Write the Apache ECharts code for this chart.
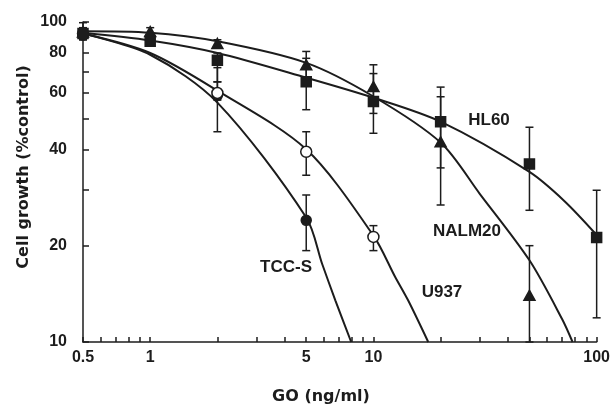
<!DOCTYPE html>
<html>
<head>
<meta charset="utf-8">
<script src="https://cdn.jsdelivr.net/npm/echarts@6/dist/echarts.min.js"></script>
<style>
  html, body { margin: 0; padding: 0; background: #fff; }
  #grafico { width: 613px; height: 405px; }
</style>
</head>
<body>
<div id="grafico"></div>
<script>
// measured points (dose in ng/ml, growth in % of control)
const hl60Dose = [0.5, 1, 2, 5, 10, 20, 50, 100];
const hl60Growth = [92, 87, 76, 65, 56.4, 48.8, 36, 21.2];
const hl60Low = [88, 84, 65, 53.2, 44.9, 35, 25.8, 11.9];
const hl60High = [99.5, 90, 80, 77, 69, 58.4, 46.9, 29.8];

const nalmDose = [0.5, 1, 2, 5, 10, 20, 50];
const nalmGrowth = [93, 93.3, 85.7, 73.5, 62.8, 42.2, 14];
const nalmLow = [90, 90, 83, 66, 51.8, 26.8, 10];
const nalmHigh = [96, 96, 88, 80.9, 73.5, 62.6, 20];

const u937Dose = [0.5, 2, 5, 10];
const u937Growth = [92, 60, 39.3, 21.3];
const u937Low = [90, 57, 33.2, 19.3];
const u937High = [94, 65, 45.4, 23.1];

const tccDose = [0.5, 2, 5];
const tccGrowth = [91, 59, 24];
const tccLow = [88, 45.4, 19.3];
const tccHigh = [94, 72, 28.8];

// fitted curves
const hl60CurveDose = [0.5, 1, 2, 5, 10, 20, 50, 72, 100];
const hl60CurveGrowth = [92.5, 87.5, 80, 67, 58, 48.8, 34, 27.5, 21.6];
const nalmCurveDose = [0.5, 1, 2, 5, 10, 20, 30, 50, 70, 78];
const nalmCurveGrowth = [93.5, 92.5, 87, 74.5, 58.5, 42, 29, 18, 11.8, 10];
const u937CurveDose = [0.5, 1, 2, 5, 10, 12.5, 14.3, 17.6];
const u937CurveGrowth = [92, 80, 61, 40, 21.5, 16, 13.5, 10];
const tccCurveDose = [0.5, 1, 2, 5, 5.9, 6.75, 7.95];
const tccCurveGrowth = [92, 79, 56, 24.5, 17.5, 13.5, 10];

// axis ticks and labels
const xTicks = [0.5, 0.6, 0.7, 0.8, 0.9, 1, 2, 3, 4, 5, 6, 7, 8, 9, 10, 20, 30, 40, 50, 60, 70, 80, 90, 100];
const xLabels = [0.5, 1, 5, 10, 100];
const yTicks = [10, 20, 30, 40, 50, 60, 70, 80, 90, 100];
const yLabels = [10, 20, 40, 60, 80, 100];

const INK = '#1c1c1c';
const lg = Math.log10;
const fmt = v => String(+Math.pow(10, v).toPrecision(3));

const pares = (xs, ys) => xs.map((x, i) => [lg(x), lg(ys[i])]);
const barras = (xs, lo, hi) => xs.map((x, i) => [lg(x), lg(lo[i]), lg(hi[i])]);

function curva(xs, ys) {
  return {
    type: 'line', data: pares(xs, ys), smooth: 0.3,
    showSymbol: false, lineStyle: { color: INK, width: 2 }, z: 2, silent: true
  };
}

function erros(xs, lo, hi) {
  return {
    type: 'custom', data: barras(xs, lo, hi), clip: false, z: 3, silent: true,
    encode: { x: 0, y: [1, 2] },
    renderItem(params, api) {
      const a = api.coord([api.value(0), api.value(1)]);
      const b = api.coord([api.value(0), api.value(2)]);
      const w = 4;
      const st = { stroke: INK, lineWidth: 1.5 };
      return {
        type: 'group',
        children: [
          { type: 'line', shape: { x1: a[0], y1: a[1], x2: b[0], y2: b[1] }, style: st },
          { type: 'line', shape: { x1: a[0] - w, y1: a[1], x2: a[0] + w, y2: a[1] }, style: st },
          { type: 'line', shape: { x1: b[0] - w, y1: b[1], x2: b[0] + w, y2: b[1] }, style: st }
        ]
      };
    }
  };
}

function pontos(xs, ys, symbol, size, fill, z) {
  return {
    type: 'scatter', data: pares(xs, ys), symbol, symbolSize: size, z, silent: true,
    itemStyle: { color: fill, borderColor: INK, borderWidth: 1.5, opacity: 1 }
  };
}

const labelFont = { fontFamily: 'Liberation Sans', fontWeight: 'bold', fontSize: 16, color: INK };

const myChart = echarts.init(document.getElementById('grafico'));

myChart.setOption({
  animation: false,
  backgroundColor: '#fff',
  grid: { left: 83, right: 14, top: 22, bottom: 63 },
  xAxis: {
    type: 'value', min: lg(0.5), max: 2,
    axisLine: { onZero: false, lineStyle: { color: INK, width: 1.5 } },
    axisTick: { inside: true, length: 5, customValues: xTicks.map(lg), lineStyle: { color: INK, width: 1.5 } },
    axisLabel: { customValues: xLabels.map(lg), formatter: fmt, margin: 8, ...labelFont },
    splitLine: { show: false }
  },
  yAxis: {
    type: 'value', min: 1, max: 2,
    axisLine: { onZero: false, lineStyle: { color: INK, width: 1.5 } },
    axisTick: { inside: true, length: 6, customValues: yTicks.map(lg), lineStyle: { color: INK, width: 1.5 } },
    axisLabel: { customValues: yLabels.map(lg), formatter: fmt, margin: 16, ...labelFont },
    splitLine: { show: false }
  },
  series: [
    curva(hl60CurveDose, hl60CurveGrowth),
    curva(nalmCurveDose, nalmCurveGrowth),
    curva(u937CurveDose, u937CurveGrowth),
    curva(tccCurveDose, tccCurveGrowth),
    erros(tccDose, tccLow, tccHigh),
    erros(u937Dose, u937Low, u937High),
    erros(nalmDose, nalmLow, nalmHigh),
    erros(hl60Dose, hl60Low, hl60High),
    pontos(tccDose, tccGrowth, 'circle', 10, INK, 4),
    pontos(u937Dose, u937Growth, 'circle', 11, '#fff', 5),
    pontos(nalmDose, nalmGrowth, 'triangle', [11, 10], INK, 6),
    pontos(hl60Dose, hl60Growth, 'rect', 10, INK, 7)
  ],
  graphic: [
    { type: 'text', x: 24, y: 167, rotation: Math.PI / 2,
      style: { text: 'Cell growth (%control)', font: 'bold 16px "DejaVu Sans"', fill: INK, align: 'center', verticalAlign: 'middle' } },
    { type: 'text', x: 321, y: 397,
      style: { text: 'GO (ng/ml)', font: 'bold 16px "DejaVu Sans"', fill: INK, align: 'center', verticalAlign: 'middle' } },
    { type: 'text', x: 489, y: 120,
      style: { text: 'HL60', font: 'bold 17px "Liberation Sans"', fill: INK, align: 'center', verticalAlign: 'middle' } },
    { type: 'text', x: 467, y: 231,
      style: { text: 'NALM20', font: 'bold 17px "Liberation Sans"', fill: INK, align: 'center', verticalAlign: 'middle' } },
    { type: 'text', x: 442, y: 292,
      style: { text: 'U937', font: 'bold 17px "Liberation Sans"', fill: INK, align: 'center', verticalAlign: 'middle' } },
    { type: 'text', x: 286, y: 267,
      style: { text: 'TCC-S', font: 'bold 17px "Liberation Sans"', fill: INK, align: 'center', verticalAlign: 'middle' } }
  ]
});
</script>
</body>
</html>
